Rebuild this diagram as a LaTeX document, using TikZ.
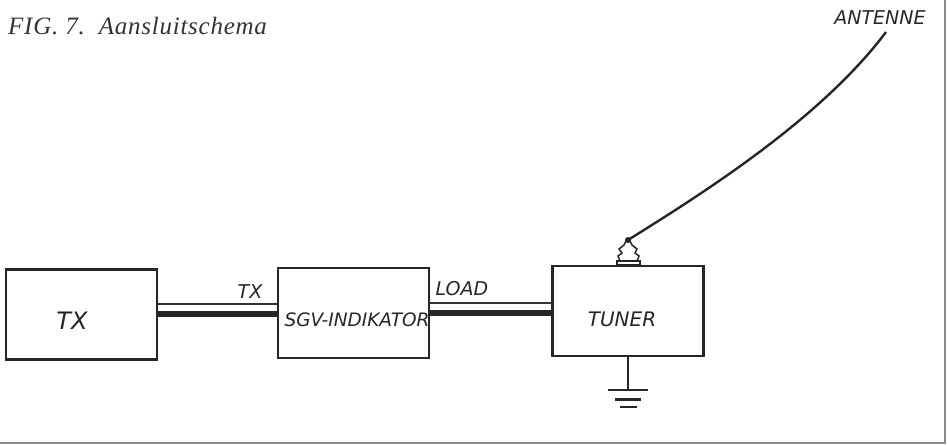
\documentclass[tikz,border=0pt]{standalone}
\usepackage{fontspec}
\setmainfont{Liberation Serif}
\newfontfamily\letterfont{DejaVu Sans}
\begin{document}
\begin{tikzpicture}[x=1pt,y=-1pt,
  unitbox/.style={draw=black!85, line width=2.2pt, minimum width=151pt, minimum height=90pt, inner sep=0pt},
  lettering/.style={font=\letterfont\itshape\fontsize{19}{19}\selectfont, text=black!85, inner sep=0pt},
  thincable/.style={draw=black!80, line width=1.8pt},
  thickcable/.style={draw=black!85, line width=6pt},
  wire/.style={draw=black!85, line width=2pt},
  border/.style={draw=black!45, line width=1.2pt}]
\useasboundingbox (0,0) rectangle (947,445);
% frame (scan border)
\coordinate (bl) at (0,443);
\coordinate (br) at (945,443);
\coordinate (tr) at (945,0);
\draw[border] (bl) -- (br) -- (tr);
% caption
\node[anchor=base west, inner sep=0pt, text=black!80] (caption) at (8,34)
  {\addfontfeatures{LetterSpace=3}\fontsize{25}{25}\selectfont\itshape FIG. 7.\ \ Aansluitschema};
% boxes
\node[unitbox] (tx) at (81.5,314.5) {};
\node[unitbox] (sgv) at (353.5,313) {};
\node[unitbox] (tuner) at (628,311) {};
\node[lettering, font=\letterfont\itshape\fontsize{24}{24}\selectfont] (txlabel) at (72,321) {TX};
\node[lettering, font=\letterfont\itshape\fontsize{18.5}{18.5}\selectfont] (sgvlabel) at (357,320) {SGV-INDIKATOR};
\node[lettering, font=\letterfont\itshape\fontsize{20}{20}\selectfont] (tunerlabel) at (622,319) {TUNER};
% cables
\draw[thincable] (tx.east |- 0,304) -- (sgv.west |- 0,304);
\draw[thickcable] (tx.east |- 0,313.5) -- (sgv.west |- 0,313.5);
\draw[thincable] (sgv.east |- 0,303) -- (tuner.west |- 0,303);
\draw[thickcable] (sgv.east |- 0,312.5) -- (tuner.west |- 0,312.5);
\node[lettering] (cablelabel1) at (250,292) {TX};
\node[lettering] (cablelabel2) at (462,289) {LOAD};
% antenna connector
\draw[wire, line width=1.5pt] (617,265) rectangle (640,261);
\draw[wire, line width=1.5pt] (620,261) -- (618,256) -- (622,253) -- (619,249) -- (624,245) -- (626,241)
  (637,261) -- (639,256) -- (635,253) -- (637,249) -- (632,245) -- (630,241);
\node[circle, fill=black!85, inner sep=0pt, minimum size=6pt] (knot) at (628,240) {};
% antenna wire
\coordinate (antennatop) at (886,32);
\draw[wire, line width=2.4pt] (knot.center) .. controls (700,195) and (820,120) .. (antennatop);
\node[lettering] (antlabel) at (880,18) {ANTENNE};
% ground
\coordinate (gnd) at (628,390);
\draw[wire, line width=1.8pt] (tuner.south -| gnd) -- (gnd);
\draw[wire, line width=2.4pt] (608,390) -- (648,390);
\draw[wire, line width=2.4pt] (615,399.5) -- (641,399.5);
\draw[wire, line width=2.4pt] (620,407) -- (637,407);
\end{tikzpicture}
\end{document}
